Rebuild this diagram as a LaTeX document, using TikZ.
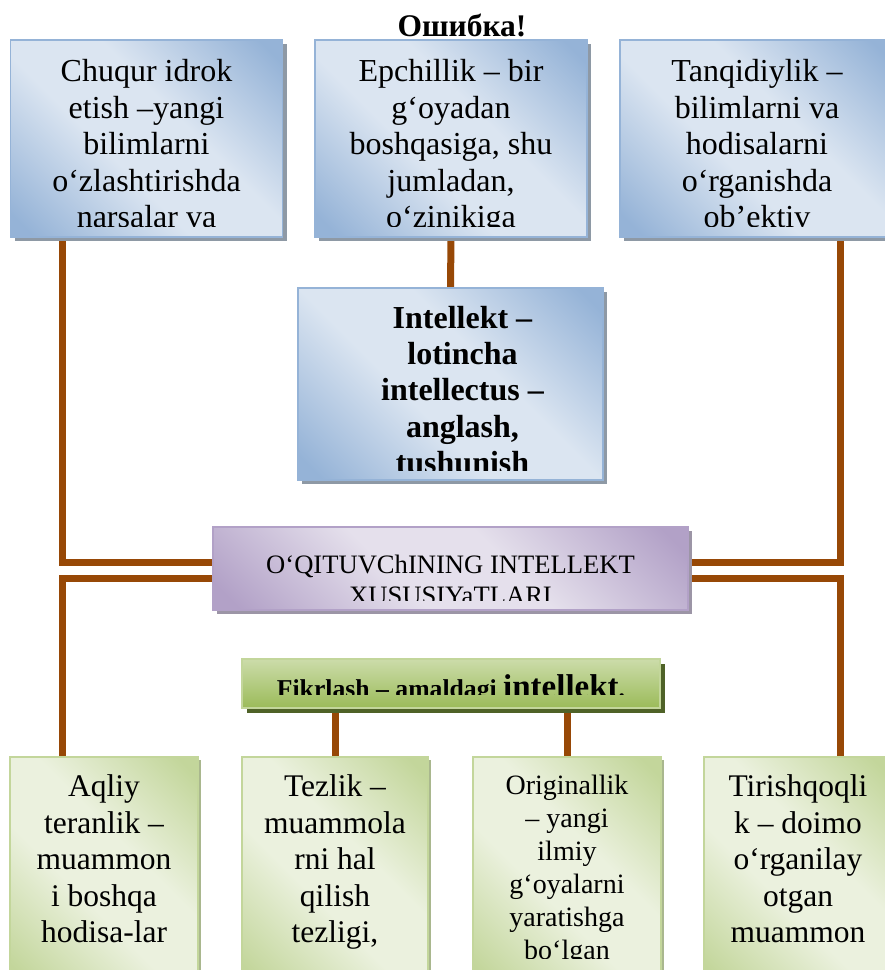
\documentclass[tikz,border=0pt]{standalone}
\usepackage{fontspec}
\setmainfont{Liberation Serif}
\usetikzlibrary{positioning,calc,shadows,backgrounds}

\definecolor{blueedge}{HTML}{95B3D7}
\definecolor{bluelite}{HTML}{DBE5F1}
\definecolor{blueshadow}{HTML}{8E99A5}
\definecolor{violetedge}{HTML}{B2A1C7}
\definecolor{violetlite}{HTML}{E5E0EC}
\definecolor{violetshadow}{HTML}{9C95A6}
\definecolor{greenedge}{HTML}{C3D69B}
\definecolor{greenlite}{HTML}{EBF1DE}
\definecolor{greenshadow}{HTML}{A9B78E}
\definecolor{greendark}{HTML}{9BBB59}
\definecolor{olivedark}{HTML}{4F6228}
\definecolor{linkbrown}{HTML}{974806}

\pgfdeclarehorizontalshading{bluefx}{100bp}{color(0bp)=(blueedge); color(18bp)=(blueedge);
  color(42bp)=(bluelite); color(58bp)=(bluelite); color(82bp)=(blueedge); color(100bp)=(blueedge)}
\pgfdeclarehorizontalshading{violetfx}{100bp}{color(0bp)=(violetedge); color(18bp)=(violetedge);
  color(42bp)=(violetlite); color(58bp)=(violetlite); color(82bp)=(violetedge); color(100bp)=(violetedge)}
\pgfdeclarehorizontalshading{greenfx}{100bp}{color(0bp)=(greenedge); color(18bp)=(greenedge);
  color(42bp)=(greenlite); color(58bp)=(greenlite); color(82bp)=(greenedge); color(100bp)=(greenedge)}

\tikzset{
  bluebox/.style={draw=blueedge, line width=1.5pt, shading=bluefx, shading angle=45,
    drop shadow={shadow xshift=4pt, shadow yshift=-4pt, fill=blueshadow, opacity=1},
    minimum width=272pt, minimum height=197pt, inner sep=0pt},
  violetbox/.style={draw=violetedge, line width=1.5pt, shading=violetfx, shading angle=45,
    drop shadow={shadow xshift=4pt, shadow yshift=-4pt, fill=violetshadow, opacity=1},
    minimum width=475pt, minimum height=83pt, inner sep=0pt},
  greenbox/.style={draw=greenedge, line width=1.5pt, shading=greenfx, shading angle=45,
    drop shadow={shadow xshift=3pt, shadow yshift=-3pt, fill=greenshadow, opacity=1},
    minimum width=188pt, minimum height=228pt, inner sep=0pt},
  barbox/.style={draw=greenedge, line width=1.5pt, top color=greenedge!85!white, bottom color=greendark,
    drop shadow={shadow xshift=5pt, shadow yshift=-5pt, fill=olivedark, opacity=1},
    minimum width=418pt, minimum height=49pt, inner sep=0pt},
  boxtext/.style={anchor=north, inner sep=0pt, align=center, font=\fontsize{32}{36.5}\selectfont},
  link/.style={draw=linkbrown, line width=7pt},
}

\begin{document}
\begin{tikzpicture}[x=1pt, y=-1pt]
  \useasboundingbox (0,0) rectangle (885,970);
  \clip (0,0) rectangle (885,970);

  \node[anchor=base, inner sep=0pt, font=\bfseries\fontsize{31.5}{34}\selectfont] (error) at (462,36) {Ошибка!};

  % top row
  \node[bluebox] (depth) at (146.5,138.5) {};
  \node[bluebox] (agility) at (451,138.5) {};
  \node[bluebox, minimum width=274pt] (critic) at (757,138.5) {};

  \begin{scope}
    \clip (depth.north west) rectangle ([yshift=11pt]depth.south east);
    \node[boxtext] (depthtxt) at ([yshift=-16.5pt]depth.north)
    {\strut Chuqur idrok\\etish –yangi\\bilimlarni\\o‘zlashtirishda\\narsalar va};
  \end{scope}
  \begin{scope}
    \clip (agility.north west) rectangle ([yshift=11pt]agility.south east);
    \node[boxtext] (agilitytxt) at ([yshift=-16.5pt]agility.north)
    {\strut Epchillik – bir\\g‘oyadan\\boshqasiga, shu\\jumladan,\\o‘zinikiga};
  \end{scope}
  \begin{scope}
    \clip (critic.north west) rectangle ([yshift=11pt]critic.south east);
    \node[boxtext] (critictxt) at ([yshift=-16.5pt]critic.north)
    {\strut Tanqidiylik –\\bilimlarni va\\hodisalarni\\o‘rganishda\\ob’ektiv};
  \end{scope}

  % middle
  \node[bluebox, minimum width=305pt, minimum height=192pt] (intellect) at (450.5,384) {};
  \begin{scope}
    \clip (intellect.north west) rectangle ([yshift=10pt]intellect.south east);
    \node[boxtext, font=\bfseries\fontsize{32}{36.3}\selectfont] (intellecttxt)
      at ([xshift=12pt, yshift=-15.5pt]intellect.north)
    {\strut Intellekt –\\lotincha\\intellectus –\\anglash,\\tushunish};
  \end{scope}

  \node[violetbox] (traits) at (450.5,568.5) {};
  \begin{scope}
    \clip (traits.north west) rectangle ([yshift=10pt]traits.south east);
    \node[boxtext, font=\fontsize{26.6}{31}\selectfont] (traitstxt) at ([yshift=-25.3pt]traits.north)
    {\strut O‘QITUVChINING INTELLEKT\\XUSUSIYaTLARI};
  \end{scope}

  \node[barbox] (thinking) at (451,683.5) {};
  \begin{scope}
    \clip (thinking.north west) rectangle ([yshift=14pt]thinking.south east);
    \node[anchor=base, inner sep=0pt, font=\bfseries\fontsize{25.7}{30}\selectfont] (thinkingtxt)
      at (451,697) {Fikrlash – amaldagi {\fontsize{33}{36}\selectfont intellekt}.};
  \end{scope}

  % bottom row
  \node[greenbox] (mind) at (104,871) {};
  \node[greenbox, minimum width=186pt] (speed) at (335,871) {};
  \node[greenbox] (origin) at (567,871) {};
  \node[greenbox] (persist) at (798,871) {};

  \begin{scope}
    \clip (mind.north west) rectangle ([yshift=27pt]mind.south east);
    \node[boxtext, font=\fontsize{31.5}{36.5}\selectfont] (mindtxt) at ([yshift=-14.5pt]mind.north)
    {\strut Aqliy\\teranlik –\\muammon\\i boshqa\\hodisa-lar};
  \end{scope}
  \begin{scope}
    \clip (speed.north west) rectangle ([yshift=27pt]speed.south east);
    \node[boxtext, font=\fontsize{31.5}{36.5}\selectfont] (speedtxt) at ([yshift=-14.5pt]speed.north)
    {\strut Tezlik –\\muammola\\rni hal\\qilish\\tezligi,};
  \end{scope}
  \begin{scope}
    \clip (origin.north west) rectangle ([yshift=27pt]origin.south east);
    \node[boxtext, font=\fontsize{28}{33}\selectfont] (origintxt) at ([yshift=-15pt]origin.north)
    {\strut Originallik\\– yangi\\ilmiy\\g‘oyalarni\\yaratishga\\bo‘lgan};
  \end{scope}
  \begin{scope}
    \clip (persist.north west) rectangle ([yshift=27pt]persist.south east);
    \node[boxtext, font=\fontsize{31.5}{36.5}\selectfont] (persisttxt) at ([yshift=-14.5pt]persist.north)
    {\strut Tirishqoqli\\k – doimo\\o‘rganilay\\otgan\\muammon};
  \end{scope}

  % connectors behind the boxes
  \coordinate (leftcol) at (62,0);
  \coordinate (rightcol) at (840,0);
  \begin{scope}[on background layer]
    \draw[link] (leftcol |- depth.south) |- ([yshift=6.5pt]traits.west);
    \draw[link] ([yshift=-9.5pt]traits.west) -| (leftcol |- mind.north);
    \draw[link] (rightcol |- critic.south) |- ([yshift=6.5pt]traits.east);
    \draw[link] ([yshift=-9.5pt]traits.east) -| (rightcol |- persist.north);
    \draw[link] (agility.south) -- (intellect.north);
    \draw[link] (thinking.south -| speed.north) -- (speed.north);
    \draw[link] (thinking.south -| origin.north) -- (origin.north);
  \end{scope}
\end{tikzpicture}
\end{document}
